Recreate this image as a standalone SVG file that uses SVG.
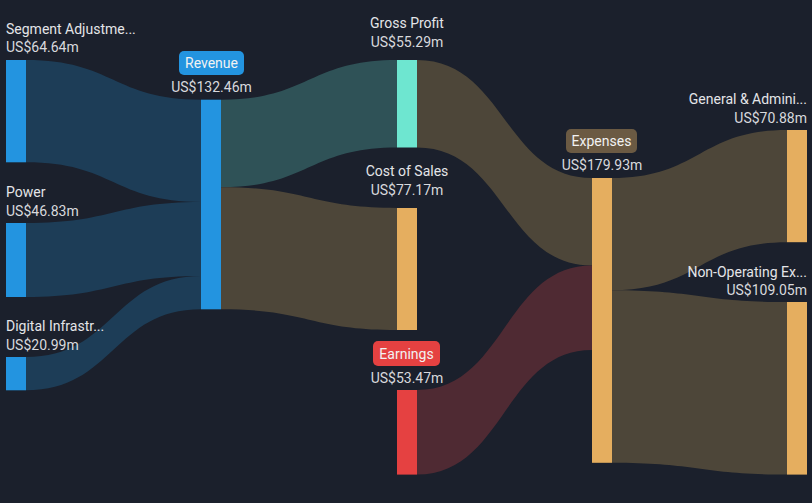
<svg xmlns="http://www.w3.org/2000/svg" width="812" height="503" viewBox="0 0 812 503">
<style>
text{font-family:Roboto,"Liberation Sans",Arial,sans-serif;font-size:14px;fill:#d8d9dd}
.lbl{fill:#e4e5e8}
.mid{text-anchor:middle}
.end{text-anchor:end}
.badge{fill:#f2f2f2;text-anchor:middle}
.lb{fill:#1d3d57}
.lt{fill:#2f5257}
.lo{fill:#4d4639}
.lr{fill:#4f2a33}
.nb{fill:#2394e0}
.nt{fill:#6ee6d0}
.no{fill:#e5ae5f}
.nr{fill:#e54141}
</style>
<rect width="812" height="503" fill="#1b202c"/>
<g id="connectors">
<path class="lb" d="M26 60 C113.5 60,113.5 99.7,201 99.7 L201 202 C113.5 202,113.5 162.3,26 162.3 Z"/>
<path class="lb" d="M26 223 C113.5 223,113.5 202,201 202 L201 276 C113.5 276,113.5 297,26 297 Z"/>
<path class="lb" d="M26 357 C113.5 357,113.5 276,201 276 L201 309.3 C113.5 309.3,113.5 390.3,26 390.3 Z"/>
<path class="lt" d="M221 99.7 C309 99.7,309 60,397 60 L397 147.5 C309 147.5,309 187.2,221 187.2 Z"/>
<path class="lo" d="M221 187.2 C309 187.2,309 208,397 208 L397 330 C309 330,309 309.3,221 309.3 Z"/>
<path class="lo" d="M417 60 C504.5 60,504.5 178,592 178 L592 265.5 C504.5 265.5,504.5 147.5,417 147.5 Z"/>
<path class="lr" d="M417 390 C504.5 390,504.5 265.5,592 265.5 L592 350 C504.5 350,504.5 474.6,417 474.6 Z"/>
<path class="lo" d="M612 178 C699.5 178,699.5 130,787 130 L787 242.2 C699.5 242.2,699.5 290.2,612 290.2 Z"/>
<path class="lo" d="M612 290.2 C699.5 290.2,699.5 302,787 302 L787 474.6 C699.5 474.6,699.5 462.8,612 462.8 Z"/>
</g>
<g id="segment-adjustments">
<rect class="nb" x="6" y="60" width="20" height="102.3"/>
<text class="lbl" x="6" y="34">Segment Adjustme...</text>
<text x="6" y="52">US$64.64m</text>
</g>
<g id="power">
<rect class="nb" x="6" y="223" width="20" height="74"/>
<text class="lbl" x="6" y="197">Power</text>
<text x="6" y="216">US$46.83m</text>
</g>
<g id="digital-infrastructure">
<rect class="nb" x="6" y="357" width="20" height="33.3"/>
<text class="lbl" x="6" y="331">Digital Infrastr...</text>
<text x="6" y="350">US$20.99m</text>
</g>
<g id="revenue">
<rect class="nb" x="201" y="99.7" width="20" height="209.6"/>
<rect x="179" y="51" width="65" height="24" rx="5" fill="#2394e0"/>
<text class="badge" x="211.5" y="68">Revenue</text>
<text class="mid" x="211.5" y="92">US$132.46m</text>
</g>
<g id="gross-profit">
<rect class="nt" x="397" y="60" width="20" height="87.5"/>
<text class="lbl mid" x="407" y="28">Gross Profit</text>
<text class="mid" x="407" y="47">US$55.29m</text>
</g>
<g id="cost-of-sales">
<rect class="no" x="397" y="208" width="20" height="122"/>
<text class="lbl mid" x="407" y="176">Cost of Sales</text>
<text class="mid" x="407" y="195">US$77.17m</text>
</g>
<g id="earnings">
<rect class="nr" x="397" y="390" width="20" height="84.6"/>
<rect x="373" y="341" width="67" height="25" rx="5" fill="#e54141"/>
<text class="badge" x="406.5" y="358.5">Earnings</text>
<text class="mid" x="407" y="383">US$53.47m</text>
</g>
<g id="expenses">
<rect class="no" x="592" y="178" width="20" height="284.8"/>
<rect x="566" y="129" width="71" height="24" rx="5" fill="#6b5a43"/>
<text class="badge" x="601.5" y="146">Expenses</text>
<text class="mid" x="602" y="170">US$179.93m</text>
</g>
<g id="general-administrative">
<rect class="no" x="787" y="130" width="20" height="112.2"/>
<text class="lbl end" x="807" y="104">General &amp; Admini...</text>
<text class="end" x="807" y="123">US$70.88m</text>
</g>
<g id="non-operating-expenses">
<rect class="no" x="787" y="302" width="20" height="172.6"/>
<text class="lbl end" x="807" y="277">Non-Operating Ex...</text>
<text class="end" x="807" y="295">US$109.05m</text>
</g>
</svg>
